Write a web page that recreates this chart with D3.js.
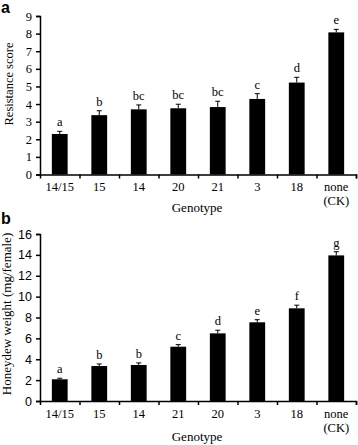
<!DOCTYPE html>
<html>
<head>
  <meta charset="utf-8">
  <title>Resistance and honeydew</title>
  <script src="https://d3js.org/d3.v7.min.js"></script>
  <style>
    body { margin: 0; background: #fff; }
    svg { display: block; }
  </style>
</head>
<body>
<svg id="chart" width="358" height="445"></svg>
<script>
// panel a data
var genoA = ["14/15", "15", "14", "20", "21", "3", "18", "none|(CK)"];
var scoreA = [2.3, 3.37, 3.7, 3.76, 3.83, 4.29, 5.22, 8.07];
var errA = [0.15, 0.25, 0.25, 0.23, 0.33, 0.3, 0.3, 0.17];
var letA = ["a", "b", "bc", "bc", "bc", "c", "d", "e"];
var ticksA = [0, 1, 2, 3, 4, 5, 6, 7, 8, 9];

// panel b data
var genoB = ["14/15", "15", "14", "21", "20", "3", "18", "none|(CK)"];
var weightB = [2.08, 3.35, 3.45, 5.2, 6.48, 7.54, 8.88, 13.95];
var errB = [0.1, 0.2, 0.2, 0.2, 0.3, 0.25, 0.3, 0.35];
var letB = ["a", "b", "b", "c", "d", "e", "f", "g"];
var ticksB = [0, 2, 4, 6, 8, 10, 12, 14, 16];

var svg = d3.select("#chart");
var serif = "'Liberation Serif', 'Times New Roman', serif";
var sans = "'Liberation Sans', Arial, sans-serif";

function panel(opt) {
  var x = d3.scaleBand()
      .domain(d3.range(opt.cats.length))
      .range([40, 356])
      .paddingInner(0.6)
      .paddingOuter(0.3);
  var edge = d3.scaleLinear().domain([0, opt.cats.length]).range([40, 356]);
  var y = d3.scaleLinear().domain(opt.domain).range([opt.y0, opt.y1]);

  var g = svg.append("g");

  // bars
  g.selectAll(".bar")
    .data(opt.vals)
    .enter().append("rect")
      .attr("x", function(d, i) { return x(i); })
      .attr("width", x.bandwidth())
      .attr("y", function(d) { return y(d); })
      .attr("height", function(d) { return y(0) - y(d); })
      .attr("fill", "#000");

  // error bars (upper only) + letters
  opt.vals.forEach(function(v, i) {
    var cx = x(i) + x.bandwidth() / 2;
    var top = y(v + opt.err[i]);
    g.append("line").attr("x1", cx).attr("x2", cx)
      .attr("y1", y(v)).attr("y2", top)
      .attr("stroke", "#000").attr("stroke-width", 1);
    g.append("line").attr("x1", cx - 2.5).attr("x2", cx + 2.5)
      .attr("y1", top).attr("y2", top)
      .attr("stroke", "#000").attr("stroke-width", 1);
    g.append("text")
      .attr("x", cx).attr("y", top - 5)
      .attr("text-anchor", "middle")
      .attr("font-family", serif).attr("font-size", "12.5px")
      .text(opt.letters[i]);
  });

  // y axis
  var ya = g.append("g")
    .attr("transform", "translate(40,0)")
    .call(d3.axisLeft(y).tickValues(opt.ticks).tickSize(4).tickPadding(4));
  ya.selectAll("text").attr("font-family", opt.tickFont).attr("font-size", "12.5px").attr("fill", "#000");

  // x axis, ticks on the category boundaries
  var xa = g.append("g")
    .attr("transform", "translate(0," + y(0) + ")")
    .call(d3.axisBottom(edge).tickValues(d3.range(opt.cats.length + 1)).tickSize(4).tickFormat(""));
  g.selectAll(".domain").attr("stroke-width", 1.5).attr("stroke", "#000");
  g.selectAll(".tick line").attr("stroke-width", 1.5).attr("stroke", "#000");
  xa.selectAll(".tick").filter(function(d) { return d === 0; }).remove();

  // x labels
  opt.cats.forEach(function(c, i) {
    var cx = x(i) + x.bandwidth() / 2;
    c.split("|").forEach(function(p, j) {
      g.append("text")
        .attr("x", cx).attr("y", opt.labY + j * 13.5)
        .attr("text-anchor", "middle")
        .attr("font-family", serif).attr("font-size", "12.5px")
        .text(p);
    });
  });

  g.append("text")
    .attr("x", 197).attr("y", opt.titleY)
    .attr("text-anchor", "middle")
    .attr("font-family", serif).attr("font-size", "13px")
    .text("Genotype");

  g.append("text")
    .attr("transform", "translate(" + opt.ylabX + "," + opt.ylabY + ") rotate(-90)")
    .attr("text-anchor", "middle")
    .attr("font-family", serif).attr("font-size", opt.ylabSize)
    .text(opt.ylab);

  g.append("text")
    .attr("x", 1).attr("y", opt.panelY)
    .attr("font-family", sans).attr("font-weight", "bold").attr("font-size", "16px")
    .text(opt.panel);
}

panel({
  cats: genoA, vals: scoreA, err: errA, letters: letA, ticks: ticksA,
  domain: [0, 9], y0: 174.5, y1: 16, tickFont: serif,
  labY: 191, titleY: 212, ylab: "Resistance score", ylabX: 12.5, ylabY: 84, ylabSize: "12.5px",
  panel: "a", panelY: 13
});

panel({
  cats: genoB, vals: weightB, err: errB, letters: letB, ticks: ticksB,
  domain: [0, 16], y0: 401, y1: 234, tickFont: sans,
  labY: 418, titleY: 441, ylab: "Honeydew weight (mg/female)", ylabX: 10.5, ylabY: 314, ylabSize: "13px",
  panel: "b", panelY: 224
});
</script>
</body>
</html>
